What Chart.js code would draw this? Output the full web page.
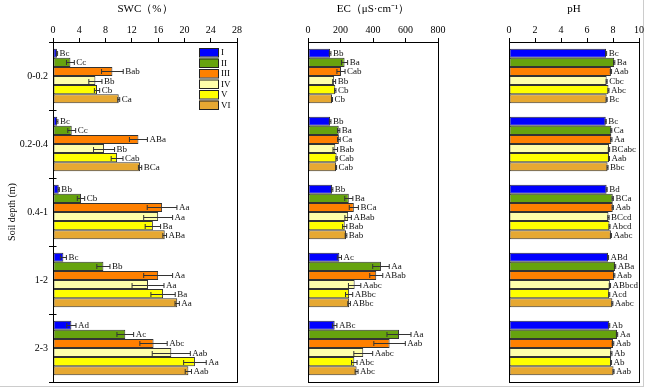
<!DOCTYPE html>
<html>
<head>
<meta charset="utf-8">
<script src="https://cdn.jsdelivr.net/npm/chart.js@4.4.1/dist/chart.umd.min.js"></script>
<style>
  body { margin: 0; background: #fff; }
  #wrap { position: relative; width: 646px; height: 389px; }
  #edge { position: absolute; left: 0; top: 0; width: 644px; height: 387px;
          border-right: 1px solid #ccc; border-bottom: 1px solid #ccc; box-sizing: border-box; }
  canvas { position: absolute; left: 0; top: 0; }
</style>
</head>
<body>
<div id="wrap">
  <div id="edge"></div>
  <canvas id="swcChart" width="646" height="389"></canvas>
  <canvas id="ecChart" width="646" height="389"></canvas>
  <canvas id="phChart" width="646" height="389"></canvas>
</div>
<script>
// soil depth groups and treatments
const depths = ['0-0.2', '0.2-0.4', '0.4-1', '1-2', '2-3'];
const treatments = ['I', 'II', 'III', 'IV', 'V', 'VI'];
const colors = ['#0000ff', '#66a30e', '#ff8000', '#ffffaa', '#ffff00', '#e6a832'];

// SWC (%) - rows = treatment, cols = depth
const swcMean = [
    [0.6, 0.65, 0.87, 1.58, 2.8],
    [2.65, 2.85, 4.26, 7.67, 11.0],
    [9.04, 13.0, 16.6, 16.0, 15.3],
    [6.45, 7.77, 16.0, 14.46, 18.0],
    [6.7, 9.75, 15.2, 16.75, 21.6],
    [10.0, 13.25, 17.0, 18.9, 20.6]
];
const swcSd = [
    [0.1, 0.1, 0.1, 0.46, 0.7],
    [0.6, 0.6, 0.56, 1.0, 1.27],
    [1.65, 1.37, 2.26, 2.2, 2.08],
    [1.0, 1.6, 2.2, 2.43, 2.9],
    [0.4, 0.9, 1.17, 1.85, 1.72],
    [0.15, 0.25, 0.28, 0.33, 0.48]
];
const swcSig = [
    ['Bc', 'Bc', 'Bb', 'Bc', 'Ad'],
    ['Cc', 'Cc', 'Cb', 'Bb', 'Ac'],
    ['Bab', 'ABa', 'Aa', 'Aa', 'Abc'],
    ['Bb', 'Bb', 'Aa', 'Aa', 'Aab'],
    ['Cb', 'Cab', 'Ba', 'Ba', 'Aa'],
    ['Ca', 'BCa', 'ABa', 'Aa', 'Aab']
];

// EC (uS/cm)
const ecMean = [
    [136, 136, 148, 193, 164],
    [225, 189, 251, 449, 560],
    [203, 190, 282, 420, 502],
    [161, 168, 247, 287, 340],
    [168, 176, 226, 253, 285],
    [148, 173, 234, 253, 299]
];
const ecSd = [
    [5, 5, 5, 13, 14],
    [19, 7, 25, 51, 74],
    [25, 8, 28, 40, 97],
    [9, 14, 20, 38, 58],
    [4, 4, 13, 22, 17],
    [3, 3, 5, 8, 9]
];
const ecSig = [
    ['Bb', 'Bb', 'Bb', 'Ac', 'ABc'],
    ['Ba', 'Ba', 'Ba', 'Aa', 'Aa'],
    ['Cab', 'Ca', 'BCa', 'ABab', 'Aab'],
    ['Bb', 'Bab', 'ABab', 'Aabc', 'Aabc'],
    ['Cb', 'Cab', 'Bab', 'ABbc', 'Abc'],
    ['Cb', 'Cab', 'Bab', 'ABbc', 'Abc']
];

// pH
const phMean = [
    [7.47, 7.44, 7.51, 7.62, 7.71],
    [8.09, 7.87, 7.98, 8.16, 8.31],
    [7.84, 7.87, 7.98, 8.09, 8.0],
    [7.51, 7.69, 7.65, 7.76, 7.87],
    [7.65, 7.69, 7.73, 7.71, 7.85],
    [7.51, 7.58, 7.84, 7.95, 8.04]
];
const phSd = [
    [0.04, 0.04, 0.04, 0.04, 0.04],
    [0.05, 0.04, 0.05, 0.05, 0.05],
    [0.05, 0.05, 0.05, 0.05, 0.06],
    [0.04, 0.05, 0.05, 0.05, 0.05],
    [0.04, 0.04, 0.04, 0.04, 0.04],
    [0.04, 0.04, 0.04, 0.04, 0.04]
];
const phSig = [
    ['Bc', 'Bc', 'Bd', 'ABd', 'Ab'],
    ['Ba', 'Ca', 'BCa', 'ABa', 'Aa'],
    ['Aab', 'Aa', 'Aab', 'Aab', 'Aab'],
    ['Cbc', 'BCabc', 'BCcd', 'ABbcd', 'Ab'],
    ['Abc', 'Aab', 'Abcd', 'Acd', 'Ab'],
    ['Bc', 'Bbc', 'Aabc', 'Aabc', 'Aab']
];

const SERIF = '"Liberation Serif", "Times New Roman", serif';
Chart.defaults.font.family = SERIF;
Chart.defaults.color = '#000';
Chart.defaults.animation = false;

// error bars + significance letters
const errLabels = {
    id: 'errLabels',
    afterDatasetsDraw(chart) {
        const ctx = chart.ctx, xs = chart.scales.x;
        ctx.save();
        ctx.font = '9px ' + SERIF;
        ctx.textBaseline = 'middle';
        ctx.fillStyle = '#111';
        ctx.strokeStyle = '#333';
        ctx.lineWidth = 1;
        chart.data.datasets.forEach((ds, i) => {
            chart.getDatasetMeta(i).data.forEach((bar, j) => {
                const v = ds.data[j], e = ds.err[j];
                const x0 = xs.getPixelForValue(v - e), x1 = xs.getPixelForValue(v + e);
                const y = Math.round(bar.y) + 0.5;
                ctx.beginPath();
                ctx.moveTo(x0, y); ctx.lineTo(x1, y);
                ctx.moveTo(x0, y - 2.5); ctx.lineTo(x0, y + 2.5);
                ctx.moveTo(x1, y - 2.5); ctx.lineTo(x1, y + 2.5);
                ctx.stroke();
                ctx.fillText(ds.sig[j], Math.max(x1, bar.x) + 2, y);
            });
        });
        ctx.restore();
    }
};

// box round the plot area
const frame = {
    id: 'frame',
    afterDraw(chart) {
        const { left, top, right, bottom } = chart.chartArea;
        const ctx = chart.ctx;
        ctx.save();
        ctx.strokeStyle = '#000';
        ctx.lineWidth = 1;
        ctx.strokeRect(Math.round(left) + 0.5, Math.round(top) + 0.5,
            Math.round(right - left), Math.round(bottom - top));
        ctx.restore();
    }
};

// short inner ticks at group boundaries (SWC panel only)
const innerTicks = {
    id: 'innerTicks',
    afterDraw(chart) {
        const ys = chart.scales.y, ctx = chart.ctx;
        const x = Math.round(chart.chartArea.left) + 0.5;
        const half = (ys.getPixelForValue(1) - ys.getPixelForValue(0)) / 2;
        ctx.save();
        ctx.strokeStyle = '#000';
        ctx.lineWidth = 1;
        ctx.beginPath();
        for (let i = 0; i < depths.length - 1; i++) {
            const y = Math.round(ys.getPixelForValue(i) + half) + 0.5;
            ctx.moveTo(x, y); ctx.lineTo(x + 3, y);
        }
        ctx.stroke();
        ctx.restore();
    }
};

// legend inside the SWC panel
const boxLegend = {
    id: 'boxLegend',
    afterDraw(chart) {
        const ctx = chart.ctx;
        const x = chart.chartArea.right - 38, y0 = chart.chartArea.top + 6;
        ctx.save();
        ctx.font = '9px ' + SERIF;
        ctx.textBaseline = 'middle';
        chart.data.datasets.forEach((ds, i) => {
            const y = y0 + i * 10.5;
            ctx.fillStyle = ds.backgroundColor;
            ctx.fillRect(x, y, 19, 8.5);
            ctx.strokeStyle = '#222';
            ctx.strokeRect(x + 0.5, y + 0.5, 19, 8.5);
            ctx.fillStyle = '#000';
            ctx.fillText(ds.label, x + 22, y + 5);
        });
        ctx.restore();
    }
};

function makeChart(id, title, means, sds, sigs, max, step, padLeft, padRight, showY, extra) {
    return new Chart(document.getElementById(id), {
        type: 'bar',
        data: {
            labels: depths,
            datasets: treatments.map((t, i) => ({
                label: t,
                data: means[i],
                err: sds[i],
                sig: sigs[i],
                backgroundColor: colors[i],
                borderColor: '#333',
                borderWidth: 1,
                borderSkipped: false,
                categoryPercentage: 0.8,
                barPercentage: 1.0
            }))
        },
        options: {
            indexAxis: 'y',
            responsive: false,
            devicePixelRatio: 1,
            layout: { padding: { left: padLeft, right: padRight, top: 0, bottom: 7 } },
            plugins: { legend: { display: false }, tooltip: { enabled: false } },
            scales: {
                x: {
                    position: 'top',
                    min: 0,
                    max: max,
                    afterFit: s => { s.height = 42; },
                    ticks: { stepSize: step, font: { size: 10 }, padding: 2, color: '#000' },
                    grid: { drawOnChartArea: false, tickLength: 4, color: '#000' },
                    border: { color: '#000' },
                    title: { display: true, text: title, font: { size: 11 }, padding: { top: 3, bottom: 4 } }
                },
                y: {
                    display: showY,
                    afterFit: s => { s.width = 53; },
                    ticks: { font: { size: 10 }, padding: 1, color: '#000' },
                    grid: { offset: true, drawOnChartArea: false, tickLength: 4, color: '#000' },
                    border: { color: '#000' },
                    title: { display: true, text: 'Soil depth (m)', font: { size: 10 }, padding: { top: 6, bottom: 0 } }
                }
            }
        },
        plugins: [errLabels, frame].concat(extra || [])
    });
}

makeChart('swcChart', 'SWC（%）', swcMean, swcSd, swcSig, 28, 4, 0, 409, true, [boxLegend, innerTicks]);
makeChart('ecChart', 'EC（μS·cm⁻¹）', ecMean, ecSd, ecSig, 800, 200, 255, 208, false);
makeChart('phChart', 'pH', phMean, phSd, phSig, 10, 2, 456, 7, false);
</script>
</body>
</html>
